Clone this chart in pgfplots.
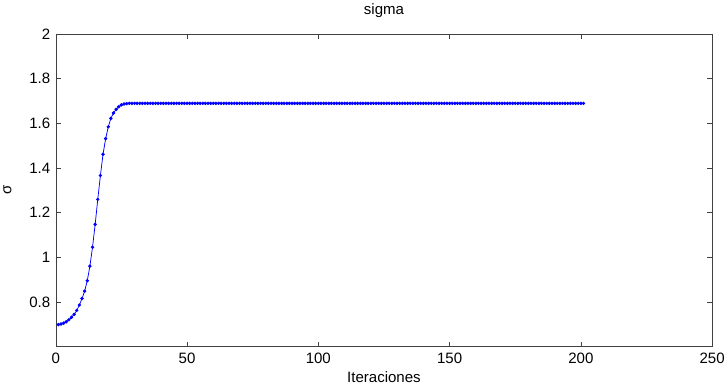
\documentclass[border=0pt]{standalone}
\usepackage{pgfplots}
\pgfplotsset{compat=1.18}
\usepackage{fontspec}
\setmainfont{Liberation Sans}
\begin{document}
\begin{tikzpicture}
\begin{axis}[
  scale only axis,
  width=655pt, height=312pt,
  xmin=0, xmax=250, ymin=0.6, ymax=2,
  xtick={0,50,100,150,200,250},
  ytick={0.8,1,1.2,1.4,1.6,1.8,2},
  yticklabels={0.8,1,1.2,1.4,1.6,1.8,2},
  tick align=inside,
  major tick length=5pt,
  axis line style={black!75},
  tick style={black!75},
  every tick label/.append style={font=\fontsize{15}{17}\selectfont},
  xticklabel style={yshift=-3pt},
  yticklabel style={xshift=-2pt},
  /pgf/number format/assume math mode=true,
  title={sigma},
  title style={font=\fontsize{15}{17}\selectfont, yshift=7pt},
  xlabel={Iteraciones},
  ylabel={σ},
  label style={font=\fontsize{15}{17}\selectfont},
  xlabel style={yshift=-1pt},
  ylabel style={yshift=11pt},
]
\addplot[blue, line width=0.75pt, mark=*, mark size=1.3pt, mark options={fill=blue, draw=blue}] coordinates {
(1,0.698) (2,0.701) (3,0.705) (4,0.711) (5,0.720) (6,0.731) (7,0.744) (8,0.762) (9,0.786) (10,0.815)
(11,0.848) (12,0.895) (13,0.960) (14,1.045) (15,1.147) (16,1.259) (17,1.366) (18,1.461) (19,1.531) (20,1.584)
(21,1.622) (22,1.646) (23,1.662) (24,1.674) (25,1.682) (26,1.686) (27,1.688) (28,1.689) (29,1.689) (30,1.689)
(31,1.689) (32,1.689) (33,1.689) (34,1.689) (35,1.689) (36,1.689) (37,1.689) (38,1.689) (39,1.689) (40,1.689)
(41,1.689) (42,1.689) (43,1.689) (44,1.689) (45,1.689) (46,1.689) (47,1.689) (48,1.689) (49,1.689) (50,1.689)
(51,1.689) (52,1.689) (53,1.689) (54,1.689) (55,1.689) (56,1.689) (57,1.689) (58,1.689) (59,1.689) (60,1.689)
(61,1.689) (62,1.689) (63,1.689) (64,1.689) (65,1.689) (66,1.689) (67,1.689) (68,1.689) (69,1.689) (70,1.689)
(71,1.689) (72,1.689) (73,1.689) (74,1.689) (75,1.689) (76,1.689) (77,1.689) (78,1.689) (79,1.689) (80,1.689)
(81,1.689) (82,1.689) (83,1.689) (84,1.689) (85,1.689) (86,1.689) (87,1.689) (88,1.689) (89,1.689) (90,1.689)
(91,1.689) (92,1.689) (93,1.689) (94,1.689) (95,1.689) (96,1.689) (97,1.689) (98,1.689) (99,1.689) (100,1.689)
(101,1.689) (102,1.689) (103,1.689) (104,1.689) (105,1.689) (106,1.689) (107,1.689) (108,1.689) (109,1.689) (110,1.689)
(111,1.689) (112,1.689) (113,1.689) (114,1.689) (115,1.689) (116,1.689) (117,1.689) (118,1.689) (119,1.689) (120,1.689)
(121,1.689) (122,1.689) (123,1.689) (124,1.689) (125,1.689) (126,1.689) (127,1.689) (128,1.689) (129,1.689) (130,1.689)
(131,1.689) (132,1.689) (133,1.689) (134,1.689) (135,1.689) (136,1.689) (137,1.689) (138,1.689) (139,1.689) (140,1.689)
(141,1.689) (142,1.689) (143,1.689) (144,1.689) (145,1.689) (146,1.689) (147,1.689) (148,1.689) (149,1.689) (150,1.689)
(151,1.689) (152,1.689) (153,1.689) (154,1.689) (155,1.689) (156,1.689) (157,1.689) (158,1.689) (159,1.689) (160,1.689)
(161,1.689) (162,1.689) (163,1.689) (164,1.689) (165,1.689) (166,1.689) (167,1.689) (168,1.689) (169,1.689) (170,1.689)
(171,1.689) (172,1.689) (173,1.689) (174,1.689) (175,1.689) (176,1.689) (177,1.689) (178,1.689) (179,1.689) (180,1.689)
(181,1.689) (182,1.689) (183,1.689) (184,1.689) (185,1.689) (186,1.689) (187,1.689) (188,1.689) (189,1.689) (190,1.689)
(191,1.689) (192,1.689) (193,1.689) (194,1.689) (195,1.689) (196,1.689) (197,1.689) (198,1.689) (199,1.689) (200,1.689)
(201,1.689)
};
\end{axis}
\end{tikzpicture}
\end{document}
